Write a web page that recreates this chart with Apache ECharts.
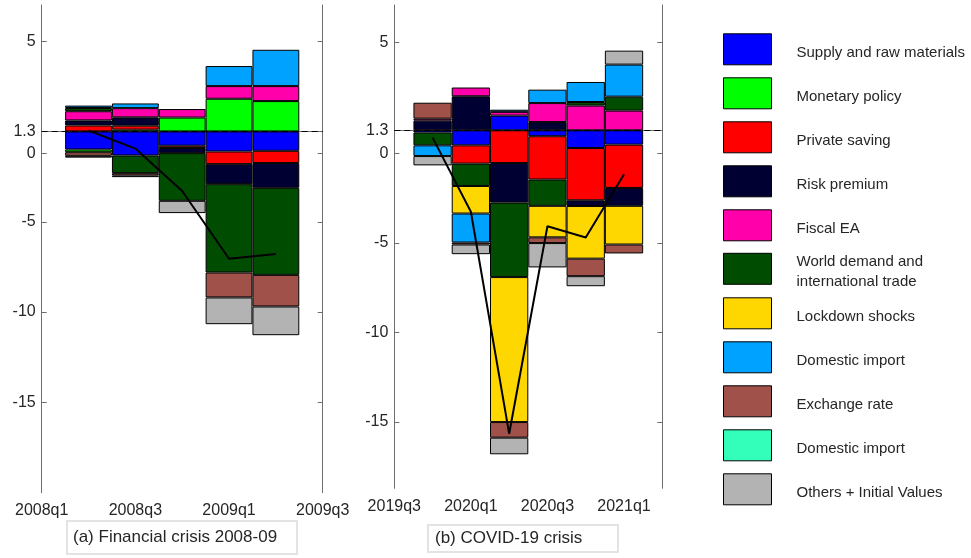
<!DOCTYPE html>
<html><head><meta charset="utf-8">
<script src="https://cdn.jsdelivr.net/npm/echarts@6/dist/echarts.min.js"></script>
<style>html,body{margin:0;padding:0;background:#fff}#c{width:971px;height:558px}</style>
</head><body><div id="c"></div>
<script>
// ---------- DATA ----------
const seriesNames = ['Supply and raw materials','Monetary policy','Private saving','Risk premium','Fiscal EA',
  'World demand and\ninternational trade','Lockdown shocks','Domestic import','Exchange rate','Domestic import','Others + Initial Values'];

// Panel (a): Financial crisis 2008-09
const quartersA = ['2008q1','2008q2','2008q3','2008q4','2009q1','2009q2','2009q3'];
const barQuartersA = ['2008q2','2008q3','2008q4','2009q1','2009q2'];
const supplyA    = [-1.00, -1.33, -0.79, -1.11, -1.07];
const monetaryA  = [-0.15,  0.10,  0.77,  1.81,  1.68];
const savingA    = [ 0.33,  0.22, -0.13, -0.70, -0.68];
const riskA      = [ 0.28,  0.46, -0.28, -1.11, -1.37];
const fiscalA    = [ 0.51,  0.51,  0.47,  0.70,  0.83];
const worldA     = [ 0.18, -0.98, -2.64, -4.89, -4.82];
const lockdownA  = [ 0,     0,     0,     0,     0   ];
const importA    = [ 0.13,  0.26,  0,     1.11,  2.01];
const exchangeA  = [-0.20, -0.13,  0,    -1.38, -1.75];
const import2A   = [ 0,     0,     0,     0,     0   ];
const othersA    = [-0.10, -0.09, -0.68, -1.48, -1.59];
const lineA      = [ 0.05, -0.95, -3.30, -7.05, -6.78];

// Panel (b): COVID-19 crisis
const quartersB = ['2019q3','2019q4','2020q1','2020q2','2020q3','2020q4','2021q1','2021q2'];
const barQuartersB = ['2019q4','2020q1','2020q2','2020q3','2020q4','2021q1'];
const supplyB    = [-0.12, -0.84,  0.82, -0.33, -0.99, -0.80];
const monetaryB  = [ 0,     0,     0,     0,     0,     0   ];
const savingB    = [ 0,    -1.02, -1.83, -2.42, -2.92, -2.42];
const riskB      = [ 0.54,  1.90, -2.21,  0.46, -0.32, -1.00];
const fiscalB    = [ 0.11,  0.49,  0.21,  1.06,  1.38,  1.10];
const worldB     = [-0.72, -1.25, -4.16, -1.47,  0.20,  0.78];
const lockdownB  = [ 0,    -1.54, -8.10, -1.76, -2.94, -2.16];
const importB    = [-0.60, -1.62,  0.12,  0.75,  1.12,  1.79];
const exchangeB  = [ 0.89, -0.11, -0.87, -0.32, -0.98, -0.50];
const import2B   = [ 0,     0,     0,     0,     0,     0   ];
const othersB    = [-0.52, -0.54, -0.93, -1.36, -0.56,  0.78];
const lineB      = [-0.41, -4.55, -16.95, -5.36, -5.99, -2.46];

// y tick labels (axis is in units relative to the dashed reference line)
const yTickLabels  = ['5','1.3','0','-5','-10','-15'];
const yTickValuesA = [5, 0, -1.22, -5, -10, -15];
const yTickValuesB = [4.9, 0, -1.3, -6.3, -11.3, -16.3];

// ---------- STYLE ----------
const colors = ['#0000ff','#00ff00','#ff0000','#000033','#ff00aa','#004c00','#ffd700','#00a2ff','#a0524a','#33ffbb','#b3b3b3'];
const FONT = 'Liberation Sans, Arial, Helvetica, sans-serif';
const TXT = '#262626';
const AX = '#6e6e6e';

const valsA = [supplyA,monetaryA,savingA,riskA,fiscalA,worldA,lockdownA,importA,exchangeA,import2A,othersA];
const valsB = [supplyB,monetaryB,savingB,riskB,fiscalB,worldB,lockdownB,importB,exchangeB,import2B,othersB];

// unique internal names (second "Domestic import" gets a trailing space; legend trims it)
const keys = seriesNames.map((n,i)=> seriesNames.indexOf(n) !== i ? n + ' ' : n);

function toCat(quarters, barQuarters, vals){
  return quarters.map(q => { const i = barQuarters.indexOf(q); return (i < 0 || vals[i] === 0) ? null : vals[i]; });
}

function makeLabelFormatter(values){
  return v => { let best = 0; values.forEach((t,i)=>{ if (Math.abs(t - v) < Math.abs(values[best] - v)) best = i; }); return yTickLabels[best]; };
}

const series = [];
keys.forEach((k,i)=>{
  series.push({type:'bar', name:k, stack:'A', xAxisIndex:0, yAxisIndex:0, barWidth:'100%',
    data: toCat(quartersA, barQuartersA, valsA[i]),
    itemStyle:{color:colors[i], borderColor:'#000', borderWidth:1}, silent:true});
});
keys.forEach((k,i)=>{
  series.push({type:'bar', name:k, stack:'B', xAxisIndex:1, yAxisIndex:2, barWidth:'100%',
    data: toCat(quartersB, barQuartersB, valsB[i]),
    itemStyle:{color:colors[i], borderColor:'#000', borderWidth:1}, silent:true});
});
const dashML = {symbol:'none', silent:true, label:{show:false},
  lineStyle:{type:[6,4], color:'#000', width:1}, data:[{yAxis:0}]};
series.push({type:'line', name:'lineA', xAxisIndex:0, yAxisIndex:0, z:5,
  data: toCat(quartersA, barQuartersA, lineA), showSymbol:false, symbol:'none',
  lineStyle:{color:'#000', width:2}, markLine: dashML, silent:true});
series.push({type:'line', name:'lineB', xAxisIndex:1, yAxisIndex:2, z:5,
  data: toCat(quartersB, barQuartersB, lineB), showSymbol:false, symbol:'none',
  lineStyle:{color:'#000', width:2}, markLine: dashML, silent:true});

function xAxis(grid, cats){
  return {type:'category', gridIndex:grid, data:cats, boundaryGap:false,
    axisLine:{show:true, lineStyle:{color:AX, width:1}},
    axisTick:{show:true, inside:true, length:5, interval:1, lineStyle:{color:AX}},
    axisLabel:{interval:1, margin:10, fontSize:16, color:TXT, fontFamily:FONT},
    splitLine:{show:false}};
}
function yAxis(grid, pos, values, labels){
  return {type:'value', gridIndex:grid, position:pos, min:-20, max:7,
    axisLine:{show:true, onZero:false, lineStyle:{color:AX, width:1}},
    axisTick:{show:true, inside:true, length:5, customValues:values, lineStyle:{color:AX}},
    axisLabel:{show:labels, customValues:values, formatter:makeLabelFormatter(values), margin:6, fontSize:16, color:TXT, fontFamily:FONT},
    splitLine:{show:false}};
}

const legends = seriesNames.map((n,i)=>{
  const multi = n.indexOf('\n') >= 0;
  return {data:[keys[i]], left:723, top: 33.3 + 44*i - (multi ? 5.5 : 0), orient:'vertical',
    itemWidth:48, itemHeight:31, itemGap:0, padding:0, icon:'rect', selectedMode:false,
    itemStyle:{borderColor:'#000', borderWidth:1},
    formatter: s => s.trim().split('\n').map(l => '{t|' + l + '}').join('\n'),
    textStyle:{fontSize:15, color:TXT, fontFamily:FONT, padding:[0,0,0,20],
      rich:{t:{fontSize:15, color:TXT, fontFamily:FONT, padding:[7,0,0,0], lineHeight: multi ? 20 : 17}}}};
});

const option = {
  animation:false,
  backgroundColor:'#fff',
  title:[
    {text:'(a) Financial crisis 2008-09', left:67, top:521, padding:[8,20,8,6],
     borderColor:'#e3e3e3', borderWidth:2,
     textStyle:{fontSize:17, fontWeight:'normal', color:TXT, fontFamily:FONT}},
    {text:'(b) COVID-19 crisis', left:428, top:525, padding:[5,36,5,7],
     borderColor:'#e3e3e3', borderWidth:2,
     textStyle:{fontSize:17, fontWeight:'normal', color:TXT, fontFamily:FONT}}
  ],
  legend: legends,
  grid:[
    {left:41.7, top:5, width:281, height:487.7},
    {left:394.3, top:5, width:268, height:483.3}
  ],
  xAxis:[xAxis(0, quartersA), xAxis(1, quartersB)],
  yAxis:[
    yAxis(0,'left', yTickValuesA, true), yAxis(0,'right', yTickValuesA, false),
    yAxis(1,'left', yTickValuesB, true), yAxis(1,'right', yTickValuesB, false)
  ],
  series: series
};
const chart = echarts.init(document.getElementById('c'), null, {renderer:'canvas'});
chart.setOption(option);
</script>
</body></html>
